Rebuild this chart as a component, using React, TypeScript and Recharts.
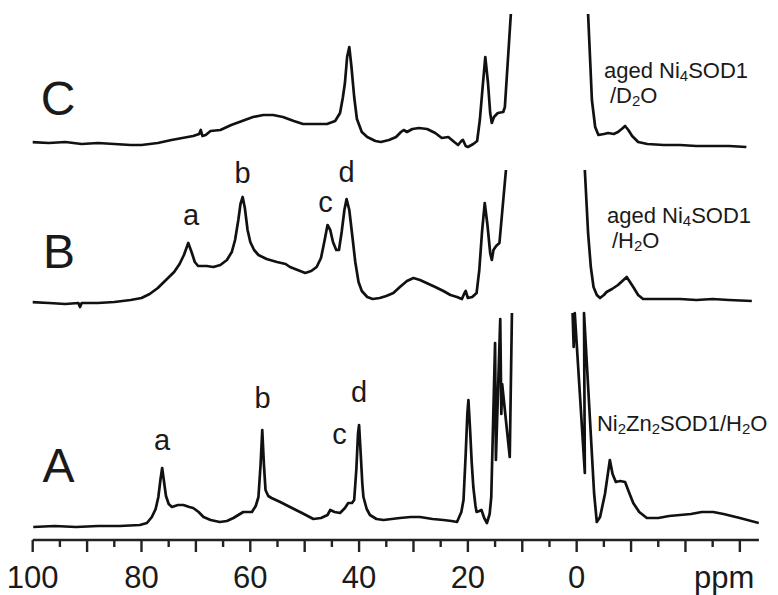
import React from 'react';
import { LineChart, Line, XAxis, YAxis, ReferenceDot } from 'recharts';

// ---- data: chemical shift (ppm) and intensity (a.u., relative to each trace's baseline)
// null marks the clipped (off-scale) diamagnetic region
const traceC: [number, number | null][] = [
  [100.3, 1], [97, 0], [94, 1], [91, -1], [88, 0], [85, -1], [82, -2], [80, -2], [77, 0], [74.5, 3],
  [72.5, 5], [70.5, 7], [69.4, 9], [69.1, 13], [68.8, 7], [68.2, 8], [67.3, 12], [65.5, 13], [63.5, 18],
  [61.5, 22], [59.5, 26], [57.6, 28], [55.8, 28], [54, 26], [52, 22], [50.3, 19], [48, 19], [45.9, 19],
  [44.4, 22], [43.5, 30], [43.0, 45], [42.6, 60], [42.2, 86], [41.8, 96], [41.4, 76], [40.9, 46],
  [40.4, 24], [39.5, 11], [38.5, 6], [37, 2], [36, 1], [34.5, 3], [33.2, 6], [32.3, 11], [31.8, 13],
  [31.2, 11], [30.2, 14], [29, 15], [27.5, 14], [26, 10], [24.8, 5], [23.6, 6], [22.5, 1], [21.8, -2],
  [21.2, 2], [20.9, 3], [20.4, -3], [20.0, -4], [19.0, -1], [18.3, 2], [17.8, 23], [17.3, 55], [16.8, 86],
  [16.3, 60], [15.9, 30], [15.6, 20], [15.2, 26], [14.5, 30], [13.5, 31], [13.2, 36], [12.1, 129],
  [5, null],
  [-2.1, 129], [-2.5, 80], [-2.8, 43], [-3.4, 16], [-4.0, 8], [-5.0, 9], [-5.8, 10], [-6.8, 9], [-7.6, 11],
  [-8.5, 15], [-8.9, 17], [-9.5, 13], [-10.2, 7], [-11.3, 1], [-13, -1], [-16, -2], [-19, -2], [-22, -3],
  [-25, -3], [-28, -3], [-31.2, -4],
];

const traceB: [number, number | null][] = [
  [100.3, -2], [97, -3], [94, -4], [91.6, -3], [91.3, -7], [91.0, -3], [88, -3], [85, -2], [82, 0], [80, 2],
  [78.5, 6], [77, 12], [75.5, 20], [74, 28], [73, 36], [72.2, 45], [71.4, 57], [70.8, 48], [70.2, 38],
  [69.6, 34], [68, 34], [66.8, 33], [65.5, 35], [64.3, 40], [63.4, 48], [62.8, 60], [62.2, 80], [61.8, 96],
  [61.4, 103], [61.0, 92], [60.5, 70], [60.0, 58], [59.3, 50], [58.5, 45], [57, 41], [55.1, 38], [53.5, 36],
  [52.7, 33], [51.3, 30], [49.9, 27], [48.8, 29], [47.8, 33], [47.0, 42], [46.4, 58], [45.8, 75], [45.3, 70],
  [44.8, 58], [44.2, 50], [43.7, 50], [43.2, 68], [42.7, 90], [42.3, 101], [41.8, 90], [41.2, 62], [40.7, 38],
  [40.1, 18], [39.5, 9], [38.5, 3], [37.5, 1], [36.2, 2], [35, 4], [33.7, 7], [32.5, 13], [31.2, 19], [30, 22],
  [28.8, 20], [27.6, 17], [26, 13], [24.5, 9], [23.2, 5], [22, 3], [21.1, 1], [20.7, 6], [20.4, 9], [20.0, 2],
  [19.2, 3], [18.4, 7], [17.9, 30], [17.4, 68], [16.9, 97], [16.4, 75], [15.9, 47], [15.6, 40], [15.3, 50],
  [14.8, 54], [14.2, 57], [13.0, 130],
  [5, null],
  [-1.5, 130], [-2.1, 67], [-2.6, 33], [-3.1, 13], [-3.7, 5], [-4.3, 2], [-5.0, 5], [-5.5, 8], [-6.5, 11],
  [-7.6, 15], [-8.4, 19], [-9.2, 23], [-9.8, 18], [-10.4, 13], [-11.3, 5], [-12.2, 1], [-15, 1], [-19, 1],
  [-22, 0], [-25, 1], [-28, 0], [-32.2, -1],
];

const traceA: [number, number | null][] = [
  [99.9, -3], [96, -2], [92, -3], [88, -2], [84, -2], [80.3, -1], [79, 1], [78.1, 7], [77.4, 15], [76.9, 27],
  [76.5, 45], [76.2, 56], [75.9, 44], [75.5, 28], [75.0, 20], [74.4, 17], [73.3, 19], [72.3, 19], [71.2, 17],
  [70.5, 16], [69.5, 12], [68.6, 7], [67.3, 4], [65.6, 2], [64.3, 3], [63.1, 6], [62.2, 9], [61.3, 12],
  [60.5, 12], [59.7, 12], [59.0, 18], [58.5, 27], [58.1, 60], [57.8, 94], [57.5, 60], [57.2, 34], [56.7, 28],
  [56.1, 26], [54.5, 22], [52.7, 17], [50.5, 11], [48.4, 5], [47, 6], [45.8, 9], [45.3, 14], [44.5, 12],
  [43.5, 11], [42.6, 16], [42.0, 21], [41.3, 21], [40.9, 24], [40.5, 55], [40.2, 90], [40.0, 99], [39.7, 70],
  [39.4, 40], [39.2, 27], [38.6, 15], [38, 9], [36.8, 5], [35.5, 4], [34, 5], [32.5, 6], [30.5, 7], [28.8, 7],
  [26.5, 5], [24.5, 4], [23, 3], [22, 2], [21.2, 12], [20.8, 24], [20.4, 70], [20.1, 110], [19.9, 124],
  [19.6, 95], [19.3, 62], [19.0, 37], [18.6, 18], [18.4, 12], [17.9, 13], [17.5, 14], [17.0, 6], [16.5, 1],
  [16.0, 10], [15.7, 27], [15.0, 181], [14.85, 64], [14.05, 205], [13.85, 110], [13.7, 140], [12.3, 67],
  [11.9, 211],
  [5, null],
  [0.75, 211], [0.55, 177], [0.35, 211], [-1.5, 51], [-1.35, 211], [-3.2, 31], [-3.7, 2], [-4.3, 7],
  [-5.2, 30], [-6.1, 64], [-6.6, 50], [-7.2, 42], [-8.0, 43], [-8.9, 42], [-9.6, 32], [-10.4, 21],
  [-11.5, 12], [-12.9, 6], [-15, 6], [-17, 8], [-19, 9], [-21, 10], [-23, 12], [-25.1, 12], [-27, 10],
  [-30, 6], [-33.5, 1],
];

// vertical stacking offsets of the three spectra (a.u.)
const traceOffsets = { A: 16, B: 240, C: 397 };

// axis ticks
const xTicks = [100, 95, 90, 85, 80, 75, 70, 65, 60, 55, 50, 45, 40, 35, 30, 25, 20, 15, 10, 5, 0, -5, -10, -15, -20, -25, -30];
const xTickLabels = [100, 80, 60, 40, 20, 0];
const xUnit = 'ppm';

// peak labels: [text, ppm, level]
const peakLabelsB: [string, number, number][] = [
  ['a', 70.9, 315], ['b', 61.43, 357], ['c', 46.18, 328.3], ['d', 42.28, 357.7],
];
const peakLabelsA: [string, number, number][] = [
  ['a', 76.23, 90], ['b', 57.76, 131.7], ['c', 43.6, 96], ['d', 40.02, 138.3],
];
const panelLetters: [string, number, number][] = [
  ['C', 95.35, 425], ['B', 95.15, 272], ['A', 95.25, 58],
];

const FONT = '"Liberation Sans", Arial, Helvetica, sans-serif';
const INK = '#1a1a1a';

const toRows = (t: [number, number | null][], off: number) =>
  t.map(([x, y]) => ({ x, y: y === null ? null : y + off }));

const rowsA = toRows(traceA, traceOffsets.A);
const rowsB = toRows(traceB, traceOffsets.B);
const rowsC = toRows(traceC, traceOffsets.C);

const AxisTick = (props: any) => {
  const { x, y, payload } = props;
  const v = payload.value as number;
  const major = v % 10 === 0;
  return (
    <g>
      <line x1={x} x2={x} y1={y} y2={y + (major ? 12 : 7)} stroke="#222" strokeWidth={2.4} />
      {xTickLabels.includes(v) && (
        <text x={x} y={y + 48} textAnchor="middle" fontSize={31} fontFamily={FONT} fill={INK}>
          {v}
        </text>
      )}
    </g>
  );
};

const center = (p: any) => {
  const vb = p.viewBox || {};
  return { cx: (vb.x || 0) + (vb.width || 0) / 2, cy: (vb.y || 0) + (vb.height || 0) / 2 };
};

const plainLabel = (text: string, size: number, anchor: 'start' | 'middle' = 'middle') => (p: any) => {
  const { cx, cy } = center(p);
  return (
    <text x={cx} y={cy} textAnchor={anchor} fontSize={size} fontFamily={FONT} fill={INK}>
      {text}
    </text>
  );
};

// text parts: [string, isSubscript]
const richLabel = (parts: [string, boolean][], size: number) => (p: any) => {
  const { cx, cy } = center(p);
  let shift = 0;
  return (
    <text x={cx} y={cy} textAnchor="start" fontSize={size} fontFamily={FONT} fill={INK}>
      {parts.map(([s, sub], i) => {
        const target = sub ? 3 : 0;
        const dy = target - shift;
        shift = target;
        return (
          <tspan key={i} dy={dy} fontSize={sub ? size * 0.68 : size}>
            {s}
          </tspan>
        );
      })}
    </text>
  );
};

const sampleLabels: { ppm: number; level: number; parts: [string, boolean][] }[] = [
  { ppm: -5.02, level: 462, parts: [['aged Ni', false], ['4', true], ['SOD1', false]] },
  { ppm: -6.12, level: 437, parts: [['/D', false], ['2', true], ['O', false]] },
  { ppm: -5.57, level: 317, parts: [['aged Ni', false], ['4', true], ['SOD1', false]] },
  { ppm: -6.49, level: 292, parts: [['/H', false], ['2', true], ['O', false]] },
  {
    ppm: -3.73,
    level: 109,
    parts: [['Ni', false], ['2', true], ['Zn', false], ['2', true], ['SOD1/H', false], ['2', true], ['O', false]],
  },
];

export default function App() {
  return (
    <div style={{ position: 'absolute', left: 0, top: 0, width: 778, height: 595, background: '#fff' }}>
      <LineChart width={778} height={595} margin={{ top: 0, right: 19.1, bottom: 0, left: 32.7 }}>
        <XAxis
          type="number"
          dataKey="x"
          domain={[-33.5, 100]}
          reversed
          allowDataOverflow
          ticks={xTicks}
          interval={0}
          tickSize={0}
          tickMargin={0}
          tickLine={false}
          tick={<AxisTick />}
          axisLine={{ stroke: '#222', strokeWidth: 2.6 }}
          height={55}
        />
        <YAxis type="number" domain={[0, 540]} hide allowDataOverflow />
        <Line data={rowsA} dataKey="y" stroke="#111" strokeWidth={2.7} dot={false} isAnimationActive={false} connectNulls={false} strokeLinejoin="round" />
        <Line data={rowsB} dataKey="y" stroke="#111" strokeWidth={2.7} dot={false} isAnimationActive={false} connectNulls={false} strokeLinejoin="round" />
        <Line data={rowsC} dataKey="y" stroke="#111" strokeWidth={2.7} dot={false} isAnimationActive={false} connectNulls={false} strokeLinejoin="round" />
        {panelLetters.map(([t, x, y]) => (
          <ReferenceDot key={'p' + t} x={x} y={y} r={1} fill="none" stroke="none" ifOverflow="visible" label={plainLabel(t, 48)} />
        ))}
        {peakLabelsB.map(([t, x, y]) => (
          <ReferenceDot key={'b' + t} x={x} y={y} r={1} fill="none" stroke="none" ifOverflow="visible" label={plainLabel(t, 29)} />
        ))}
        {peakLabelsA.map(([t, x, y]) => (
          <ReferenceDot key={'a' + t} x={x} y={y} r={1} fill="none" stroke="none" ifOverflow="visible" label={plainLabel(t, 29)} />
        ))}
        {sampleLabels.map((s, i) => (
          <ReferenceDot key={'s' + i} x={s.ppm} y={s.level} r={1} fill="none" stroke="none" ifOverflow="visible" label={richLabel(s.parts, 22)} />
        ))}
        <ReferenceDot x={-27.1} y={-48} r={1} fill="none" stroke="none" ifOverflow="visible" label={plainLabel(xUnit, 31)} />
      </LineChart>
    </div>
  );
}
